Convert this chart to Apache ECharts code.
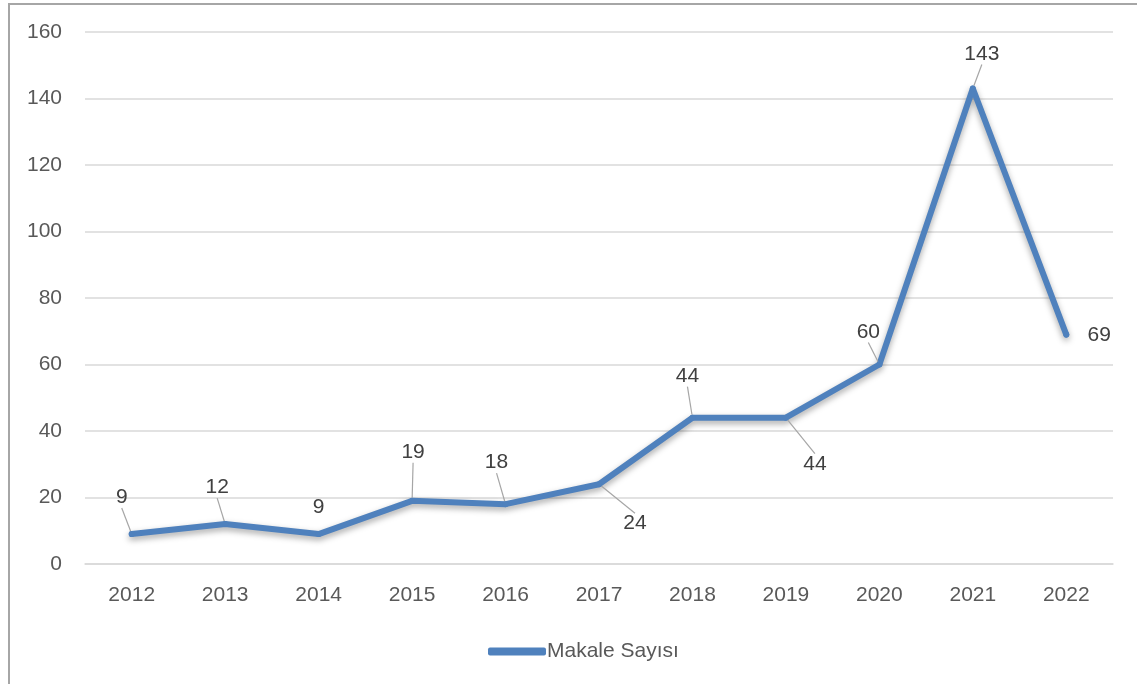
<!DOCTYPE html>
<html>
<head>
<meta charset="utf-8">
<script src="https://cdn.jsdelivr.net/npm/echarts@6/dist/echarts.min.js"></script>
<style>
html,body{margin:0;padding:0;background:#fff;overflow:hidden;}
#frame{position:absolute;left:8px;top:3px;width:2000px;height:2000px;border-left:2px solid #a6a6a6;border-top:2px solid #a6a6a6;}
#chart{position:absolute;left:0;top:0;width:1137px;height:684px;}
</style>
</head>
<body>
<div id="frame"></div>
<div id="chart"></div>
<script>
const categories = ['2012','2013','2014','2015','2016','2017','2018','2019','2020','2021','2022'];
const values = [9, 12, 9, 19, 18, 24, 44, 44, 60, 143, 69];
const seriesName = 'Makale Sayısı';
const yTicks = { min: 0, max: 160, interval: 20 };
// label displacement (style only) and whether a leader line is shown
const labelOffsets = [[-10,-18],[-8,-18],[0,-8],[1,-30],[-9,-23],[36,58],[-5,-23],[29,65],[-11,-14],[9,-16],[33,19]];
const leaders = [true,true,false,true,true,true,true,true,true,true,false];

const chart = echarts.init(document.getElementById('chart'), null, {renderer:'canvas'});
const font = "'Liberation Sans', Arial, sans-serif";
chart.setOption({
  animation: false,
  backgroundColor: 'transparent',
  grid: { left: 85, right: 24, top: 32, bottom: 120, containLabel: false },
  legend: {
    data: [seriesName], left: 483, top: 636,
    itemWidth: 58, itemHeight: 8, itemGap: 4,
    textStyle: { color: '#595959', fontSize: 21, fontFamily: font, padding:[0,0,0,-4] },
    icon: 'roundRect'
  },
  xAxis: {
    type: 'category', data: categories, boundaryGap: true,
    axisLine: { show: true, lineStyle: { color: '#d9d9d9', width: 1.5 } },
    axisTick: { show: false },
    axisLabel: { color: '#595959', fontSize: 21, fontFamily: font, margin: 21 }
  },
  yAxis: {
    type: 'value', min: yTicks.min, max: yTicks.max, interval: yTicks.interval,
    axisLine: { show: false }, axisTick: { show: false },
    splitLine: { lineStyle: { color: '#d9d9d9', width: 1.5 } },
    axisLabel: { color: '#595959', fontSize: 21, fontFamily: font, margin: 23 }
  },
  series: [{
    name: seriesName, type: 'line',
    data: values.map((v, i) => ({ value: v, labelLine: { show: leaders[i] } })),
    symbol: 'circle', symbolSize: 6, showSymbol: true,
    itemStyle: { color: '#4f81bd' },
    lineStyle: { color: '#4f81bd', width: 6, cap: 'round', join: 'round',
      shadowColor: 'rgba(0,0,0,0.35)', shadowBlur: 6, shadowOffsetY: 3 },
    label: { show: true, position: 'top', distance: 5, color: '#404040', fontSize: 21, fontFamily: font },
    labelLine: { show: true, lineStyle: { color: '#a6a6a6', width: 1.2 } },
    labelLayout: function (p) { const o = labelOffsets[p.dataIndex]; return { dx: o[0], dy: o[1] }; }
  }]
});
</script>
</body>
</html>
